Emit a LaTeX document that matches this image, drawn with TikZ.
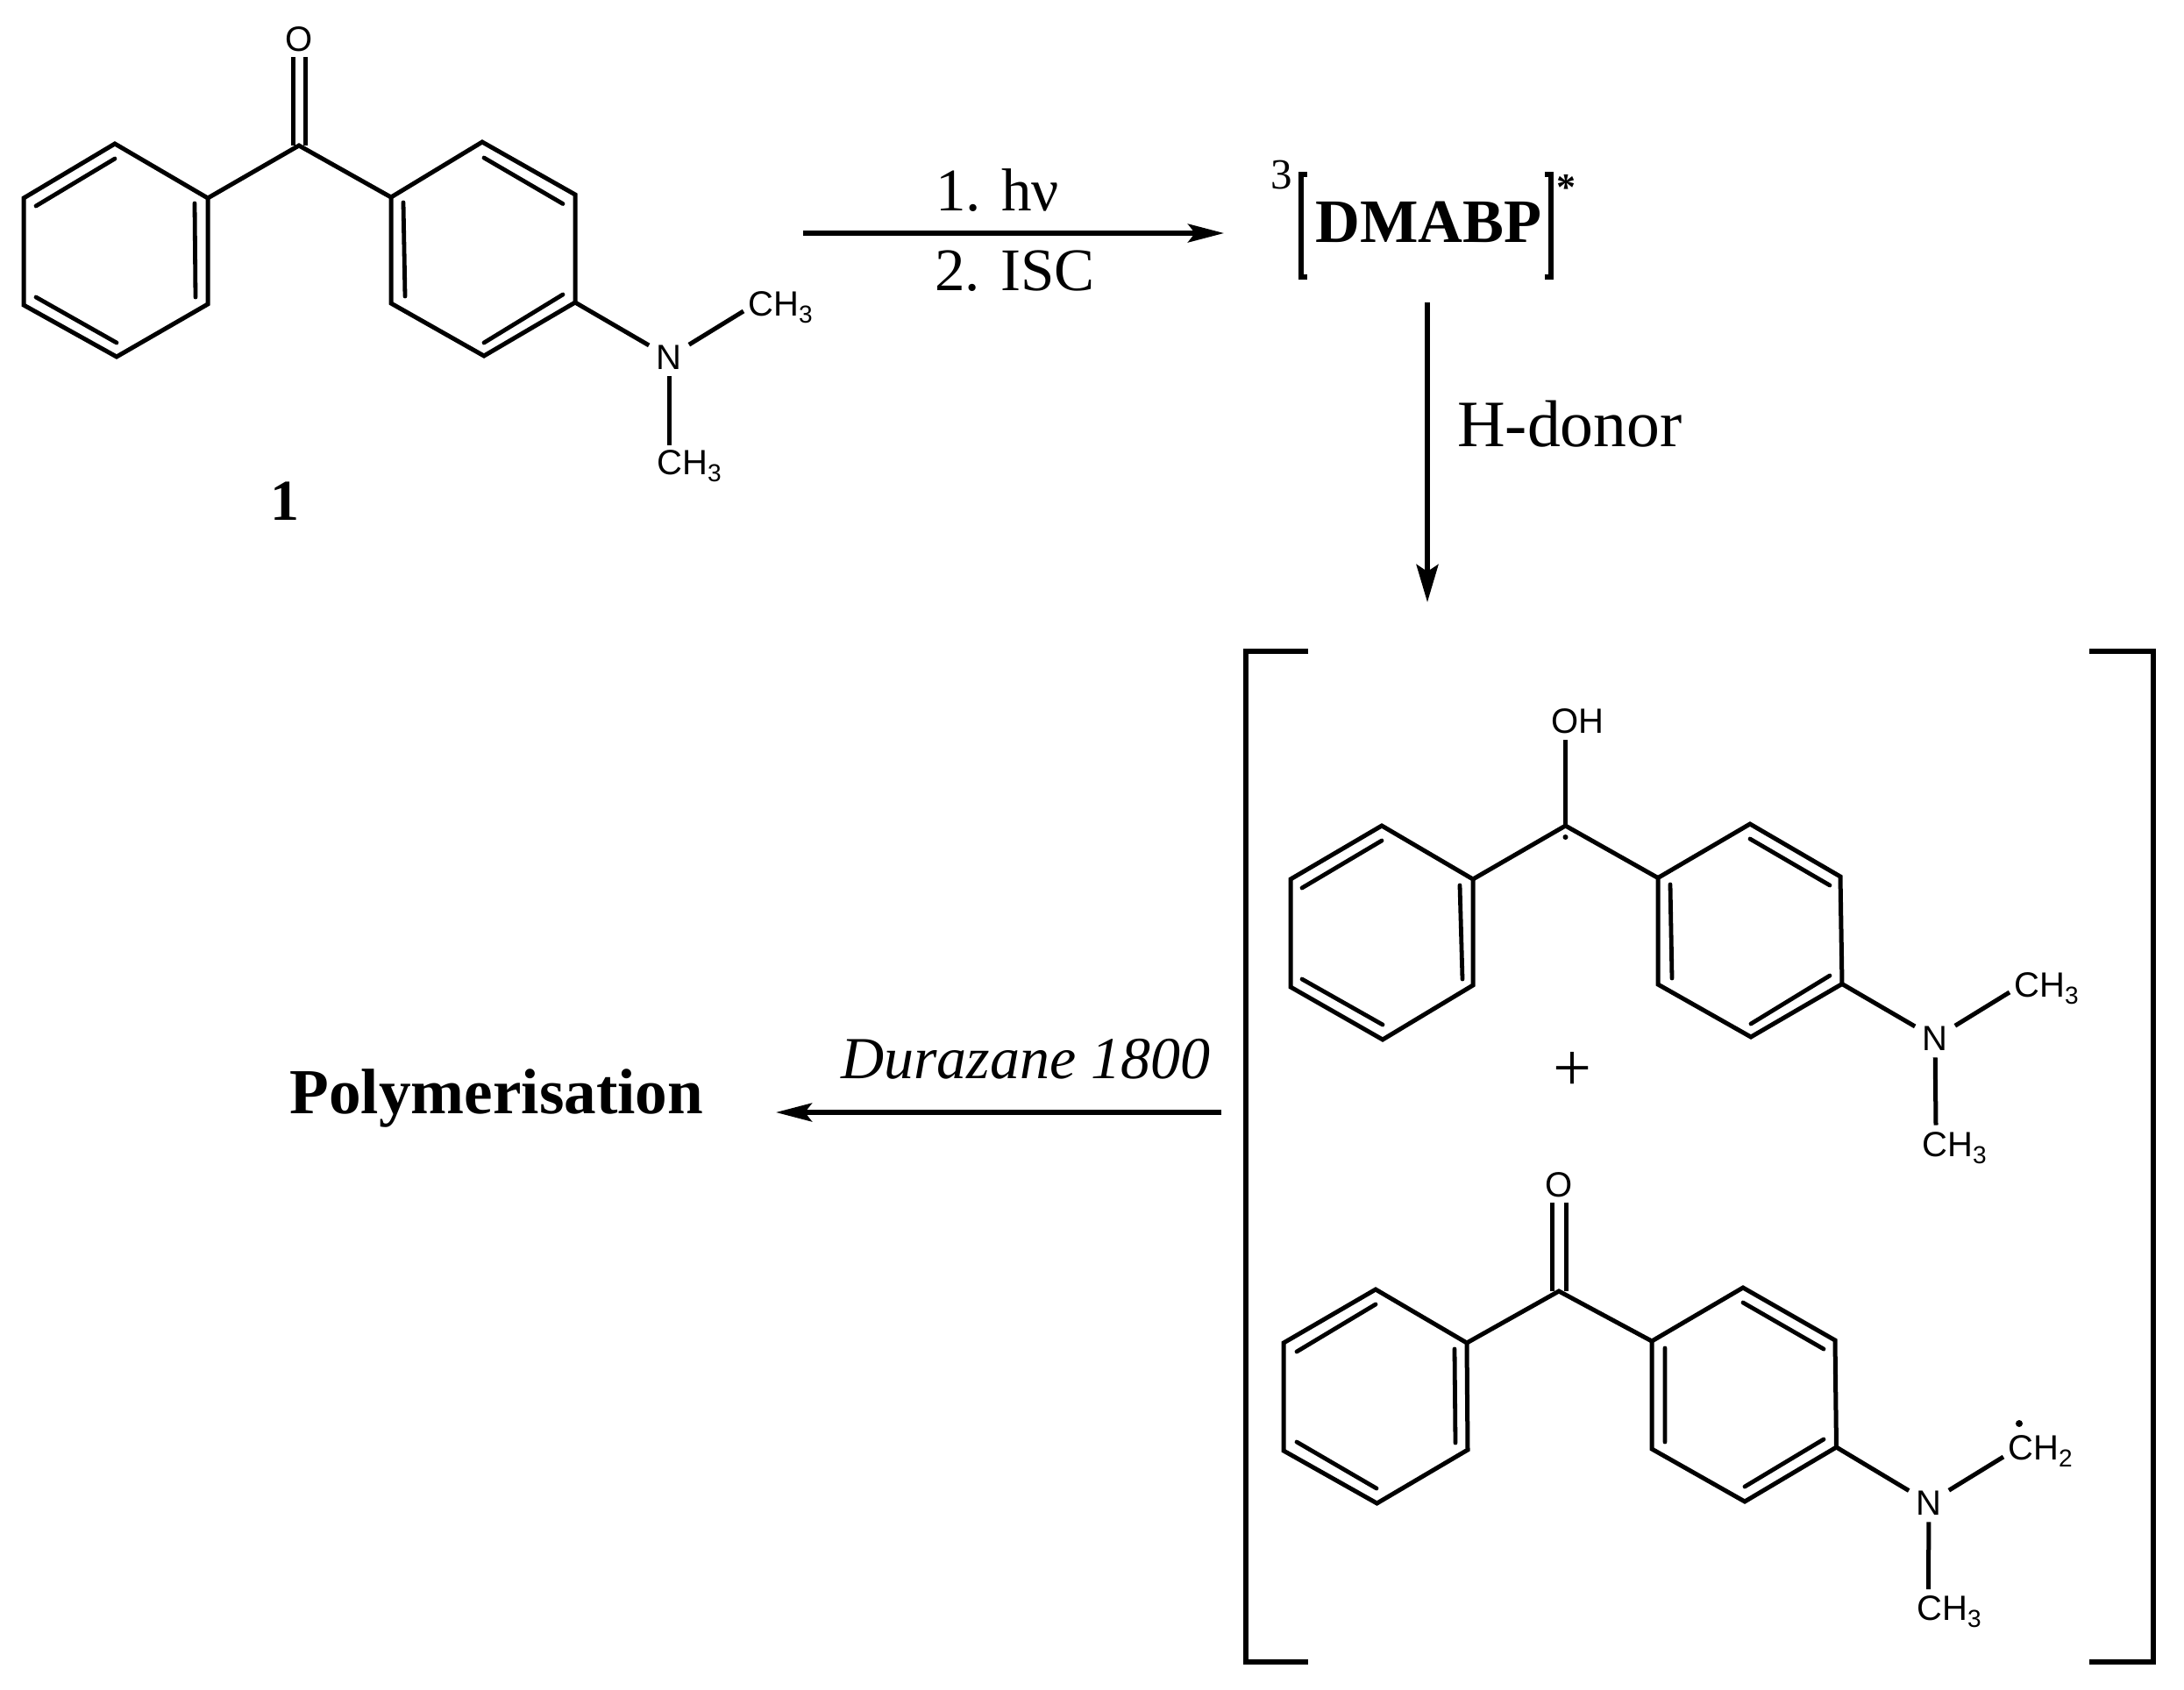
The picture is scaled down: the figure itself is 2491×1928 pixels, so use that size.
\documentclass[tikz,border=0pt]{standalone}
\usepackage{fontspec}
\setmainfont{Liberation Serif}
\newfontfamily\atomfont{Liberation Sans}
\usetikzlibrary{arrows.meta}
\newcommand{\lsub}[1]{\raisebox{-4pt}{\fontsize{14}{14}\selectfont #1}}
\tikzset{
  bond/.style={line width=2.5pt,line join=miter,black},
  dbl/.style={line width=2.4pt,line cap=round,black},
  rxn/.style={line width=2.6pt,black},
  headh/.style={-{Stealth[length=20.5pt,width=10.5pt,inset=4pt]}},
  headv/.style={-{Stealth[length=21.5pt,width=12.5pt,inset=4pt]}},
  brk/.style={line width=2.6pt,line join=miter,black},
  lbl/.style={inner sep=0pt,anchor=base west,font=\fontsize{34.5}{40}\selectfont},
  lblb/.style={inner sep=0pt,anchor=base west,font=\fontsize{35.2}{40}\selectfont\bfseries},
  atomw/.style={inner sep=0pt,anchor=base west,font=\atomfont\fontsize{20}{24}\selectfont},
  atomc/.style={inner sep=4pt,anchor=base,font=\atomfont\fontsize{20}{24}\selectfont},
  rad/.style={fill=black,draw=none,circle,inner sep=0pt}
}
\begin{document}
\begin{tikzpicture}[x=0.5pt,y=-0.5pt]
\useasboundingbox (0,0) rectangle (2491,1928);

% ---------- molecule 1 ----------
\coordinate (a1) at (131,164); \coordinate (a2) at (27,226); \coordinate (a3) at (27,348);
\coordinate (a4) at (133,407); \coordinate (a5) at (237,347); \coordinate (a6) at (237,226);
\coordinate (aC) at (341,166);
\coordinate (b1) at (446,225); \coordinate (b2) at (550,162); \coordinate (b3) at (656,222);
\coordinate (b4) at (656,345); \coordinate (b5) at (552,406); \coordinate (b6) at (446,346);
\coordinate (aOe) at (341,65);
\coordinate (aMe1) at (848,355); \coordinate (aMe2) at (763,508);
\draw[bond] (a1)--(a2)--(a3)--(a4)--(a5)--(a6)--cycle;
\draw[bond] (b1)--(b2)--(b3)--(b4)--(b5)--(b6)--cycle;
\draw[bond] (a6)--(aC)--(b1);
\draw[dbl] (131,181)--(41,235) (222,232)--(223,339) (41,339)--(133,391);
\draw[dbl] (460,231)--(462,338) (552,180)--(642,232.5) (552,391)--(642,336);
\draw[bond] ([xshift=-3.5pt]aOe)--([xshift=-3.5pt]aC);
\draw[bond] ([xshift=3.5pt]aOe)--([xshift=3.5pt]aC);
\node[atomc,inner sep=0pt] (aO) at (341,58) {O};
\node[atomc] (aN) at (763,421) {N};
\node[atomw] (aCH1) at (853,360) {CH\lsub{3}};
\node[atomw] (aCH2) at (749,541) {CH\lsub{3}};
\draw[bond] (b4)--(aN);
\draw[bond] (aN)--(aMe1);
\draw[bond] (aN)--(aMe2);
\node[lblb,anchor=base,font=\fontsize{33}{36}\selectfont\bfseries] (one) at (325,593) {1};

% ---------- arrow 1 and intermediate ----------
\coordinate (r1s) at (916,266); \coordinate (r1e) at (1396,266);
\draw[rxn,headh] (r1s)--(r1e);
\node[lbl] (hv) at (1067,240) {1. hν};
\node[lbl] (isc) at (1066,331) {2. ISC};
\node[lblb] (dmabp) at (1500,276) {DMABP};
\node[inner sep=0pt,anchor=base west,font=\fontsize{24.5}{26}\selectfont] (three) at (1449,215) {3};
\node[inner sep=0pt,anchor=base west,font=\fontsize{22}{24}\selectfont\bfseries] (star) at (1775,228) {*};
\draw[brk] (1491,199)--(1484,199)--(1484,316)--(1491,316);
\draw[brk] (1762,199)--(1769,199)--(1769,316)--(1762,316);

% ---------- arrow 2 ----------
\coordinate (r2s) at (1628,345); \coordinate (r2e) at (1628,687);
\draw[rxn,headv] (r2s)--(r2e);
\node[lbl,font=\fontsize{37.8}{40}\selectfont] (hd) at (1662,509) {H-donor};

% ---------- large brackets ----------
\draw[brk] (1492,743)--(1421,743)--(1421,1896)--(1492,1896);
\draw[brk] (2383,743)--(2456,743)--(2456,1896)--(2383,1896);

% ---------- molecule 2 ----------
\coordinate (c1) at (1576,942); \coordinate (c2) at (1472,1003); \coordinate (c3) at (1472,1126);
\coordinate (c4) at (1577,1186); \coordinate (c5) at (1680,1124); \coordinate (c6) at (1680,1003);
\coordinate (cC) at (1785.5,942);
\coordinate (d1) at (1891,1001.5); \coordinate (d2) at (1996,940); \coordinate (d3) at (2099,1000);
\coordinate (d4) at (2101,1122.5); \coordinate (d5) at (1997,1183); \coordinate (d6) at (1891,1123);
\coordinate (cOe) at (1785.5,844);
\coordinate (cMe1) at (2292,1132); \coordinate (cMe2) at (2208,1283.5);
\draw[bond] (c1)--(c2)--(c3)--(c4)--(c5)--(c6)--cycle;
\draw[bond] (d1)--(d2)--(d3)--(d4)--(d5)--(d6)--cycle;
\draw[bond] (c6)--(cC)--(d1);
\draw[bond] (cC)--(cOe);
\draw[dbl] (1576,959)--(1485,1013) (1665,1010)--(1668,1117) (1485,1117)--(1577,1169);
\draw[dbl] (1905,1009)--(1907,1116) (1996,957)--(2087,1010) (1997,1168)--(2087,1113);
\node[rad,minimum size=3pt] (cdot) at (1785.5,955) {};
\node[atomw] (cOH) at (1769,836) {OH};
\node[atomc] (cN) at (2207,1198) {N};
\node[atomw] (cCH1) at (2297,1137) {CH\lsub{3}};
\node[atomw] (cCH2) at (2192,1319) {CH\lsub{3}};
\draw[bond] (d4)--(cN);
\draw[bond] (cN)--(cMe1);
\draw[bond] (cN)--(cMe2);
\node[inner sep=0pt,anchor=base,font=\fontsize{39}{42}\selectfont] (plus) at (1793,1244) {+};

% ---------- molecule 3 ----------
\coordinate (e1) at (1569,1471); \coordinate (e2) at (1464,1532); \coordinate (e3) at (1464,1655);
\coordinate (e4) at (1570.5,1715); \coordinate (e5) at (1674,1654); \coordinate (e6) at (1673,1532);
\coordinate (eC) at (1778,1473);
\coordinate (f1) at (1884,1530); \coordinate (f2) at (1988,1469); \coordinate (f3) at (2093,1529);
\coordinate (f4) at (2094.5,1651); \coordinate (f5) at (1990,1713); \coordinate (f6) at (1884,1653);
\coordinate (eOe) at (1778,1372);
\coordinate (eMe1) at (2285,1662); \coordinate (eMe2) at (2199.5,1813);
\draw[bond] (e1)--(e2)--(e3)--(e4)--(e5)--(e6)--cycle;
\draw[bond] (f1)--(f2)--(f3)--(f4)--(f5)--(f6)--cycle;
\draw[bond] (e6)--(eC)--(f1);
\draw[dbl] (1569,1488)--(1479,1542) (1659,1539)--(1660,1646) (1479,1645)--(1570,1698);
\draw[dbl] (1899,1538)--(1899,1645) (1988,1486)--(2080,1539) (1990,1696)--(2080,1642);
\draw[bond] ([xshift=-4pt]eOe)--([xshift=-4pt]eC);
\draw[bond] ([xshift=4pt]eOe)--([xshift=4pt]eC);
\node[atomc,inner sep=0pt] (eO) at (1778,1365) {O};
\node[atomc] (eN) at (2200,1728) {N};
\node[atomw] (eCH1) at (2290,1665) {CH\lsub{2}};
\node[rad,minimum size=4pt] (edot) at (2303,1624) {};
\node[atomw] (eCH2) at (2186,1848) {CH\lsub{3}};
\draw[bond] (f4)--(eN);
\draw[bond] (eN)--(eMe1);
\draw[bond] (eN)--(eMe2);

% ---------- arrow 3 ----------
\coordinate (r3s) at (1393,1269); \coordinate (r3e) at (885,1269);
\draw[rxn,headh] (r3s)--(r3e);
\node[lbl,font=\fontsize{34}{38}\selectfont\itshape] (dz) at (959,1230) {Durazane 1800};
\node[lblb,font=\fontsize{36.6}{40}\selectfont\bfseries] (poly) at (330,1270) {Polymerisation};
\end{tikzpicture}
\end{document}
